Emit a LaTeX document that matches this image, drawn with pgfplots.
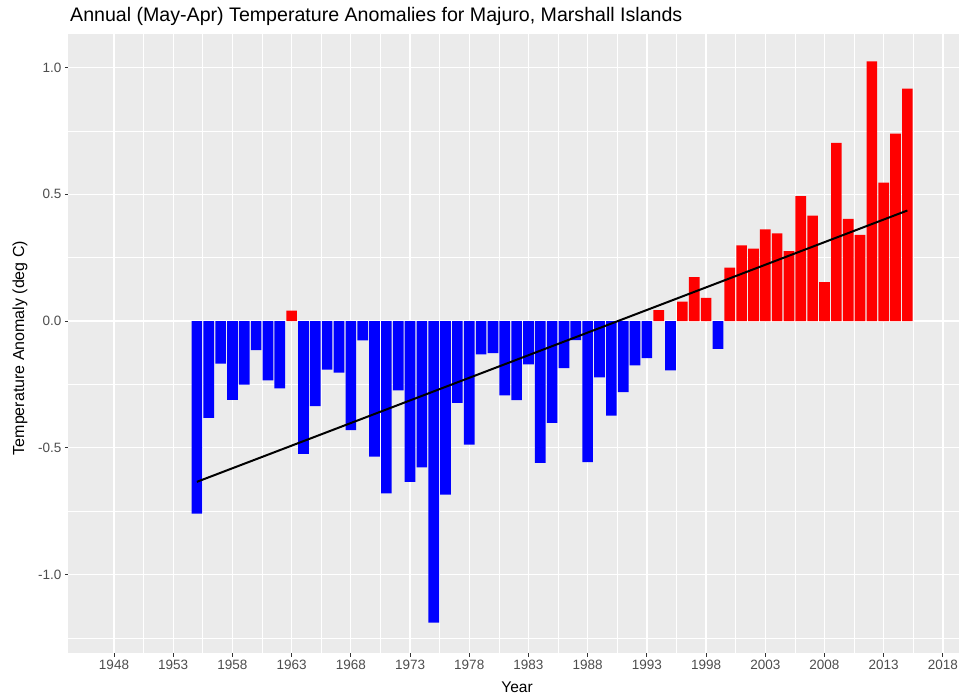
\documentclass[border=0pt]{standalone}
\usepackage{pgfplots}
\pgfplotsset{compat=1.18}
\usepackage{fontspec}
\setmainfont{Liberation Sans}
\definecolor{panelbg}{HTML}{EBEBEB}
\definecolor{tickgray}{HTML}{333333}
\definecolor{labgray}{HTML}{4D4D4D}
\begin{document}
\begin{tikzpicture}[x=1pt,y=1pt]
\useasboundingbox (-68.3,-43) rectangle (891.7,653);
\begin{axis}[
  at={(0,0)}, anchor=south west,
  scale only axis, width=890.7pt, height=619pt,
  xmin=1944.14, xmax=2019.36, ymin=-1.309, ymax=1.132,
  axis background/.style={fill=panelbg},
  axis line style={draw=none},
  xtick={1948,1953,...,2018},
  minor xtick={1950.5,1955.5,...,2015.5},
  ytick={-1,-0.5,0,0.5,1},
  minor ytick={-1.25,-0.75,-0.25,0.25,0.75},
  yticklabels={-1.0,-0.5,0.0,0.5,1.0},
  xticklabel style={/pgf/number format/1000 sep={}},
  /pgf/number format/assume math mode=true,
  ticklabel style={font=\fontsize{13.5}{14}\selectfont, text=labgray},
  xtick pos=bottom, ytick pos=left,
  tick align=outside,
  major tick length=3.5pt, minor tick length=0pt,
  tick style={color=tickgray, line width=1pt},
  grid=both,
  major grid style={white, line width=1.3pt},
  minor grid style={white, line width=0.65pt},
]
\addplot[ybar, bar width=0.9, bar shift=0pt, fill=blue, draw=none] coordinates {
(1955,-0.759) (1956,-0.382) (1957,-0.168) (1958,-0.311) (1959,-0.251) (1960,-0.115)
(1961,-0.234) (1962,-0.265) (1964,-0.524) (1965,-0.335) (1966,-0.192) (1967,-0.203)
(1968,-0.430) (1969,-0.076) (1970,-0.535) (1971,-0.680) (1972,-0.273) (1973,-0.634)
(1974,-0.577) (1975,-1.189) (1976,-0.684) (1977,-0.323) (1978,-0.487) (1979,-0.131)
(1980,-0.126) (1981,-0.293) (1982,-0.312) (1983,-0.171) (1984,-0.559) (1985,-0.402)
(1986,-0.186) (1987,-0.075) (1988,-0.556) (1989,-0.222) (1990,-0.373) (1991,-0.280)
(1992,-0.175) (1993,-0.146) (1995,-0.194) (1999,-0.110)
};
\addplot[ybar, bar width=0.9, bar shift=0pt, fill=red, draw=none] coordinates {
(1963,0.041) (1994,0.043) (1996,0.077) (1997,0.173) (1998,0.091) (2000,0.211)
(2001,0.298) (2002,0.286) (2003,0.362) (2004,0.346) (2005,0.276) (2006,0.493)
(2007,0.416) (2008,0.154) (2009,0.703) (2010,0.403) (2011,0.340) (2012,1.024)
(2013,0.546) (2014,0.739) (2015,0.917)
};
\addplot[black, line width=2pt] coordinates {(1955,-0.634) (2015,0.436)};
\end{axis}
\node[anchor=base west, inner sep=0pt, font=\fontsize{19.6}{22}\selectfont] at (1.7,631.3) {Annual (May-Apr) Temperature Anomalies for Majuro, Marshall Islands};
\node[rotate=90, inner sep=0pt, font=\fontsize{16}{18}\selectfont] at (-48.3,305) {Temperature Anomaly (deg C)};
\node[anchor=base, inner sep=0pt, font=\fontsize{15.5}{18}\selectfont] at (448.7,-39.5) {Year};
\end{tikzpicture}
\end{document}
